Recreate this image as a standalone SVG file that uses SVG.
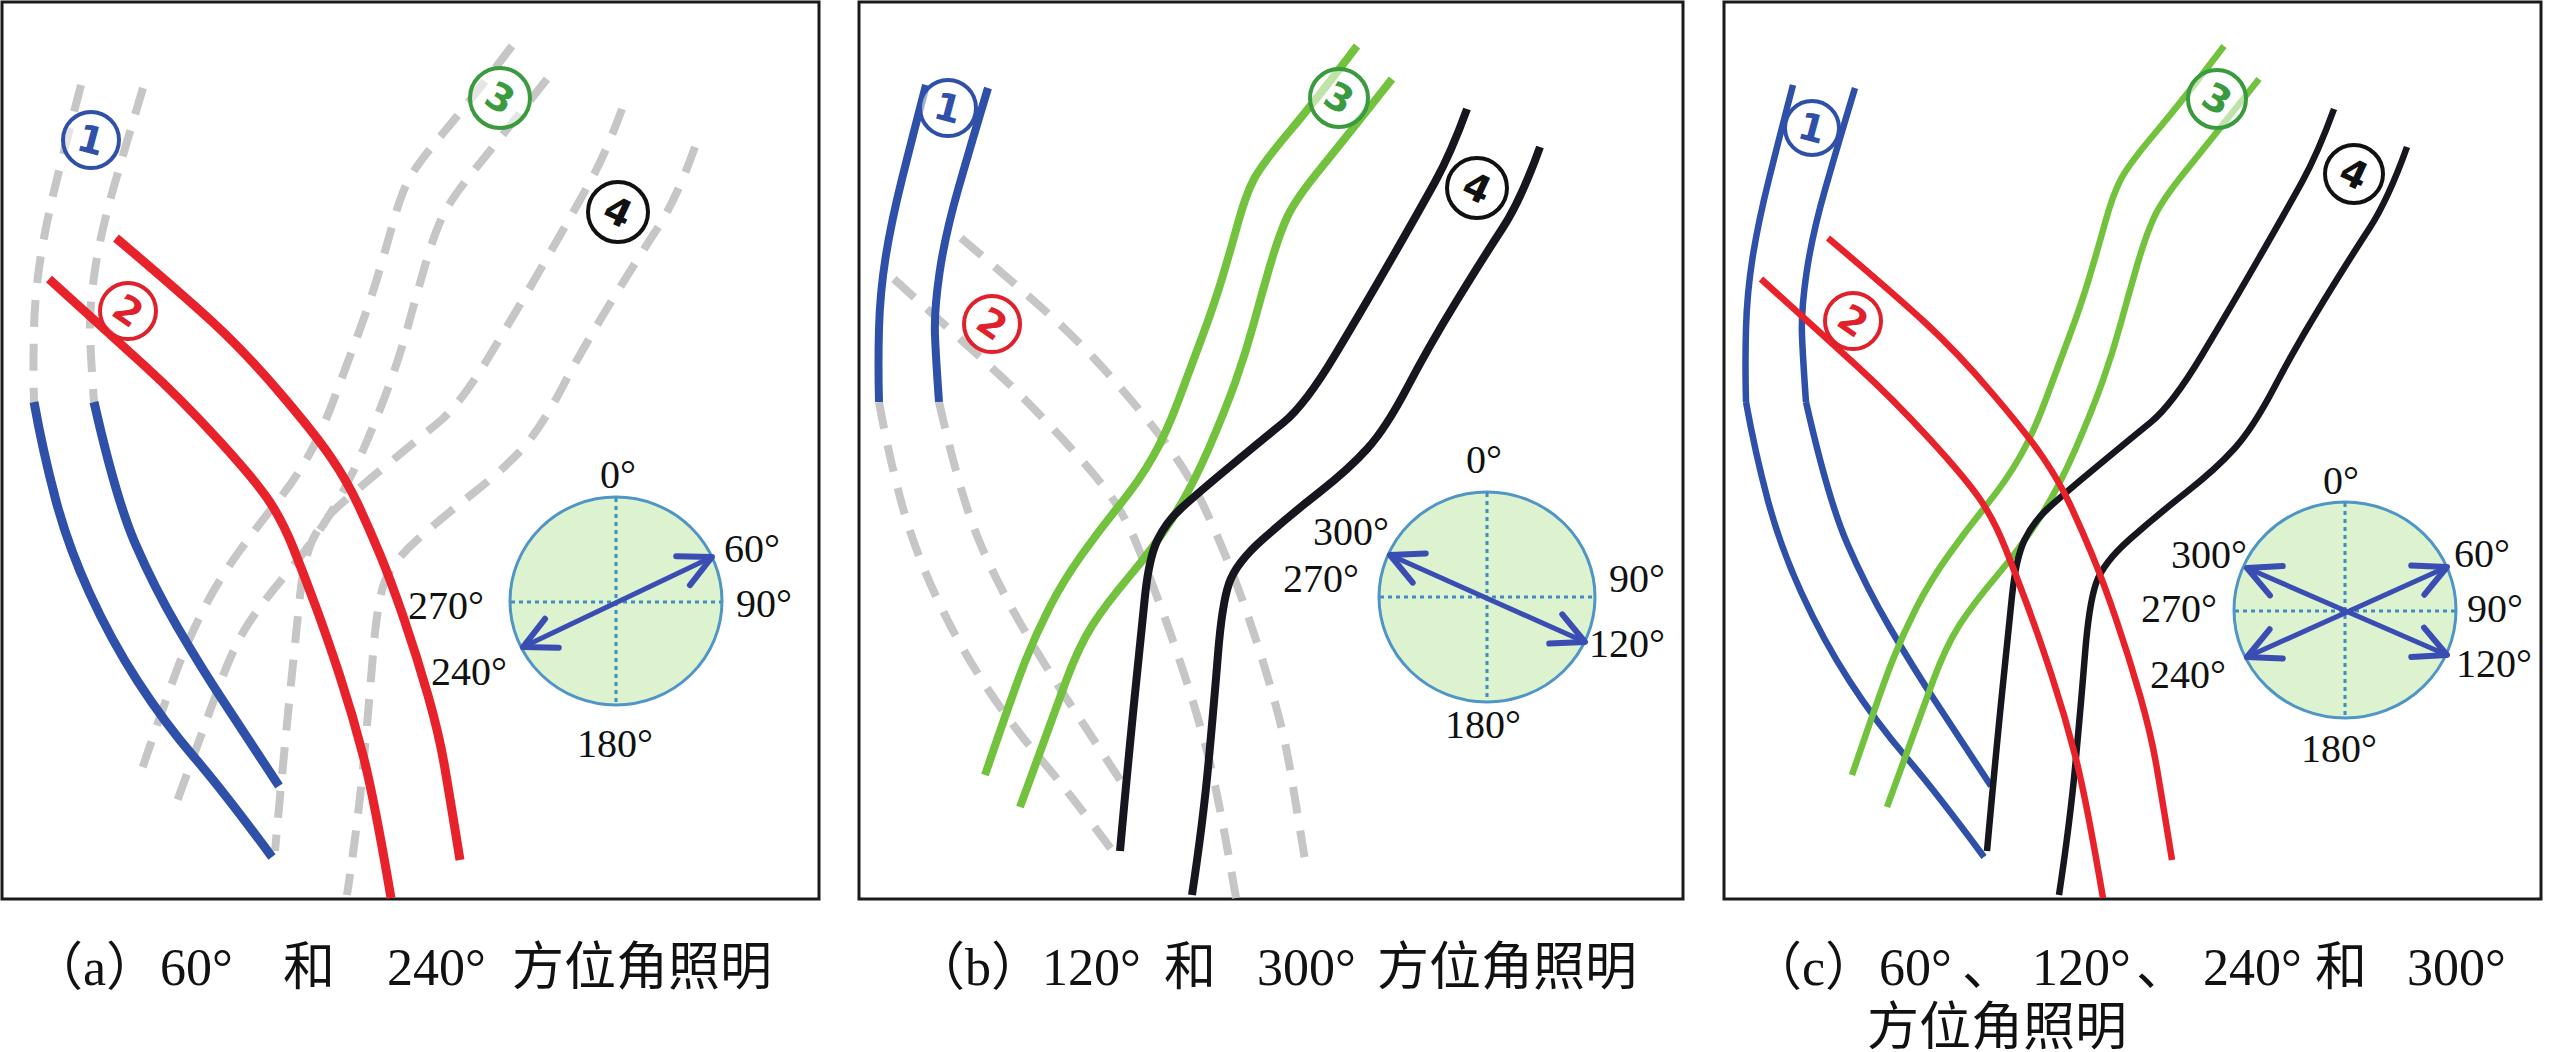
<svg xmlns="http://www.w3.org/2000/svg" xmlns:xlink="http://www.w3.org/1999/xlink" width="2559" height="1052" viewBox="0 0 2559 1052">
<style>
.frame{fill:#fff;stroke:#1a1a1a;stroke-width:3}
.ln{fill:none;stroke-linecap:butt;stroke-linejoin:round}
.blue{stroke:#2f50a8}.red{stroke:#e8222b}.green{stroke:#72c23e}.black{stroke:#16161e}
.dash{fill:none;stroke:#c6c6c6;stroke-width:8;stroke-dasharray:27 17;stroke-linecap:butt}
.wa{stroke-width:9}.wb{stroke-width:8}.wc{stroke-width:6.5}
.comp{fill:#ddf2cf;stroke:#4f95c6;stroke-width:3}
.dot{stroke:#3d8cc4;stroke-width:3;stroke-dasharray:4 4;fill:none}
.arr{stroke:#3a4db2;stroke-width:5;fill:none;marker-start:url(#ah);marker-end:url(#ah)}
.deg{font-family:"Liberation Serif",serif;font-size:40px;fill:#111}
.cap{font-family:"Liberation Serif","Noto Sans CJK SC",serif;font-size:52px;fill:#111}
.tag circle{fill:#fff;fill-opacity:.55;stroke-width:4}
.tag text{font-family:"DejaVu Sans",sans-serif;font-weight:bold;font-size:38px;text-anchor:middle;dominant-baseline:central}
.t1 circle{stroke:#2f50a8}.t1 text{fill:#2f50a8}
.t2 circle{stroke:#e0202a}.t2 text{fill:#e0202a}
.t3 circle{stroke:#3a9a3e}.t3 text{fill:#3a9a3e}
.t4 circle{stroke:#111}.t4 text{fill:#111}
</style>
<defs>
<marker id="ah" viewBox="0 0 46 46" refX="41" refY="23" markerWidth="46" markerHeight="46" markerUnits="userSpaceOnUse" orient="auto-start-reverse">
<path d="M9,7 L41,23 L9,39" fill="none" stroke="#3a4db2" stroke-width="6" stroke-linecap="round" stroke-linejoin="round"/>
</marker>
<path id="BLu" d="M69,85 Q56,135 45,179 Q34,223 28.5,258 Q23,293 22,328.5 Q21,364 22,402"/>
<path id="BLl" d="M22,402 Q31,452 43.5,499 Q56,546 77.5,593 Q99,640 125.5,681 Q152,722 182,757 Q212,792 260,857"/>
<path id="BRu" d="M131,88 Q115,141 101.5,188 Q88,235 82.5,273 Q77,311 78,335.5 Q79,360 82,402"/>
<path id="BRl" d="M82,402 Q104,499 123,543 Q142,587 166,628 Q190,669 211.5,701.5 Q233,734 267,786"/>
<path id="RL" d="M37,279 Q99,335 134,367 Q169,399 206.5,440 Q244,481 257.5,501.5 Q271,522 281.5,548.5 Q292,575 303,604.5 Q314,634 327.5,675 Q341,716 351.5,757 Q362,798 379,898"/>
<path id="RR" d="M104,238 Q169,293 201,322.5 Q233,352 268,393 Q303,434 319,457.5 Q335,481 346,504.5 Q357,528 368,554.5 Q379,581 392,619 Q405,657 416,695.5 Q427,734 432.5,766 Q438,798 448,860"/>
<path id="GL" d="M500,46 Q459,100 432,132 Q405,164 397,179 Q389,194 381,223 Q373,252 365,278.5 Q357,305 346,334.5 Q335,364 322,399 Q309,434 295.5,457.5 Q282,481 263,504.5 Q244,528 225,554.5 Q206,581 192.5,607.5 Q179,634 168.5,660.5 Q158,687 128,775"/>
<path id="GR" d="M535,79 Q486,141 462,170.5 Q438,200 430,217.5 Q422,235 413.5,264 Q405,293 397,322.5 Q389,352 378.5,381.5 Q368,411 351.5,449 Q335,487 316.5,516.5 Q298,546 273.5,575 Q249,604 235.5,625 Q222,646 209,681 Q196,716 163,807"/>
<path id="KL" d="M610,109 Q594,153 578,182 Q562,211 535,258 Q508,305 478,355 Q448,405 426.5,422.5 Q405,440 373,466.5 Q341,493 325,507.5 Q309,522 300.5,540 Q292,558 288,596 Q284,634 277.5,698.5 Q271,763 263,851"/>
<path id="KR" d="M683,147 Q664,200 645,229 Q626,258 599,302 Q572,346 550.5,387 Q529,428 510.5,448.5 Q492,469 462,492.5 Q432,516 405.5,539.5 Q379,563 372,583.5 Q365,604 361,654 Q357,704 351.5,763 Q346,822 335,895"/>
</defs>
<rect width="2559" height="1052" fill="#fff"/>

<g id="panel-a">
<rect class="frame" x="2" y="2" width="817" height="897"/>
<g id="lines-a" transform="translate(12,0)">
<use xlink:href="#BLu" class="dash"/><use xlink:href="#BRu" class="dash"/>
<use xlink:href="#GL" class="dash"/><use xlink:href="#GR" class="dash"/>
<use xlink:href="#KL" class="dash"/><use xlink:href="#KR" class="dash"/>
<use xlink:href="#BLl" class="ln blue wa"/><use xlink:href="#BRl" class="ln blue wa"/>
<use xlink:href="#RL" class="ln red wa"/><use xlink:href="#RR" class="ln red wa"/>
</g>
<g id="tags-a">
<g class="tag t1"><circle cx="91" cy="140" r="28"/><text x="91" y="140" transform="rotate(15 91 140)">1</text></g>
<g class="tag t2"><circle cx="128" cy="311" r="28"/><text x="128" y="311" transform="rotate(35 128 311)">2</text></g>
<g class="tag t3"><circle cx="500" cy="98" r="30"/><text x="500" y="98" transform="rotate(30 500 98)">3</text></g>
<g class="tag t4"><circle cx="618" cy="212" r="30"/><text x="618" y="212" transform="rotate(25 618 212)">4</text></g>
</g>
<g id="compass-a">
<ellipse class="comp" cx="616" cy="601" rx="106" ry="104"/>
<line class="dot" x1="616" y1="498" x2="616" y2="704"/>
<line class="dot" x1="511" y1="602" x2="721" y2="602"/>
<line class="arr" x1="523" y1="647" x2="712" y2="557"/>
<text class="deg" x="600" y="488">0°</text>
<text class="deg" x="724" y="562">60°</text>
<text class="deg" x="736" y="617">90°</text>
<text class="deg" x="408" y="619">270°</text>
<text class="deg" x="431" y="685">240°</text>
<text class="deg" x="577" y="757">180°</text>
</g>
</g>

<g id="panel-b">
<rect class="frame" x="859" y="2" width="824" height="897"/>
<g id="lines-b" transform="translate(857,0)">
<use xlink:href="#BLl" class="dash"/><use xlink:href="#BRl" class="dash"/>
<use xlink:href="#RL" class="dash"/><use xlink:href="#RR" class="dash"/>
<use xlink:href="#BLu" class="ln blue wb"/><use xlink:href="#BRu" class="ln blue wb"/>
<use xlink:href="#GL" class="ln green wb"/><use xlink:href="#GR" class="ln green wb"/>
<use xlink:href="#KL" class="ln black wb"/><use xlink:href="#KR" class="ln black wb"/>
</g>
<g id="tags-b">
<g class="tag t1"><circle cx="948" cy="108" r="28"/><text x="948" y="108" transform="rotate(15 948 108)">1</text></g>
<g class="tag t2"><circle cx="992" cy="324" r="28"/><text x="992" y="324" transform="rotate(35 992 324)">2</text></g>
<g class="tag t3"><circle cx="1339" cy="98" r="29"/><text x="1339" y="98" transform="rotate(30 1339 98)">3</text></g>
<g class="tag t4"><circle cx="1477" cy="188" r="30"/><text x="1477" y="188" transform="rotate(25 1477 188)">4</text></g>
</g>
<g id="compass-b">
<ellipse class="comp" cx="1487" cy="597" rx="108" ry="105"/>
<line class="dot" x1="1487" y1="493" x2="1487" y2="701"/>
<line class="dot" x1="1380" y1="597" x2="1594" y2="597"/>
<line class="arr" x1="1585" y1="642" x2="1390" y2="555"/>
<text class="deg" x="1466" y="473">0°</text>
<text class="deg" x="1313" y="545">300°</text>
<text class="deg" x="1283" y="592">270°</text>
<text class="deg" x="1609" y="592">90°</text>
<text class="deg" x="1589" y="657">120°</text>
<text class="deg" x="1445" y="738">180°</text>
</g>
</g>

<g id="panel-c">
<rect class="frame" x="1724" y="2" width="817" height="897"/>
<g id="lines-c" transform="translate(1724,0)">
<use xlink:href="#BLu" class="ln blue wc"/><use xlink:href="#BLl" class="ln blue wc"/>
<use xlink:href="#BRu" class="ln blue wc"/><use xlink:href="#BRl" class="ln blue wc"/>
<use xlink:href="#GL" class="ln green wc"/><use xlink:href="#GR" class="ln green wc"/>
<use xlink:href="#KL" class="ln black wc"/><use xlink:href="#KR" class="ln black wc"/>
<use xlink:href="#RL" class="ln red wc"/><use xlink:href="#RR" class="ln red wc"/>
</g>
<g id="tags-c">
<g class="tag t1"><circle cx="1812" cy="128" r="27"/><text x="1812" y="128" transform="rotate(15 1812 128)">1</text></g>
<g class="tag t2"><circle cx="1853" cy="321" r="28"/><text x="1853" y="321" transform="rotate(35 1853 321)">2</text></g>
<g class="tag t3"><circle cx="2217" cy="99" r="29"/><text x="2217" y="99" transform="rotate(30 2217 99)">3</text></g>
<g class="tag t4"><circle cx="2354" cy="174" r="29"/><text x="2354" y="174" transform="rotate(25 2354 174)">4</text></g>
</g>
<g id="compass-c">
<ellipse class="comp" cx="2345" cy="610" rx="111" ry="108"/>
<line class="dot" x1="2345" y1="503" x2="2345" y2="717"/>
<line class="dot" x1="2235" y1="611" x2="2455" y2="611"/>
<line class="arr" x1="2247" y1="657" x2="2447" y2="567"/>
<line class="arr" x1="2247" y1="568" x2="2447" y2="655"/>
<text class="deg" x="2323" y="494">0°</text>
<text class="deg" x="2171" y="568">300°</text>
<text class="deg" x="2454" y="567">60°</text>
<text class="deg" x="2141" y="622">270°</text>
<text class="deg" x="2467" y="622">90°</text>
<text class="deg" x="2150" y="688">240°</text>
<text class="deg" x="2456" y="677">120°</text>
<text class="deg" x="2301" y="762">180°</text>
</g>
</g>

<g id="captions">
<text class="cap" y="985"><tspan x="31">（a）</tspan><tspan x="160">60°</tspan><tspan x="283">和</tspan><tspan x="387">240°</tspan><tspan x="512">方位角照明</tspan></text>
<text class="cap" y="985"><tspan x="913">（b）</tspan><tspan x="1042">120°</tspan><tspan x="1164">和</tspan><tspan x="1257">300°</tspan><tspan x="1377">方位角照明</tspan></text>
<text class="cap" y="985"><tspan x="1750">（c）</tspan><tspan x="1879">60°</tspan><tspan x="1962">、</tspan><tspan x="2032">120°</tspan><tspan x="2136">、</tspan><tspan x="2203">240°</tspan><tspan x="2315">和</tspan><tspan x="2407">300°</tspan></text>
<text class="cap" x="1867" y="1045">方位角照明</text>
</g>
</svg>
